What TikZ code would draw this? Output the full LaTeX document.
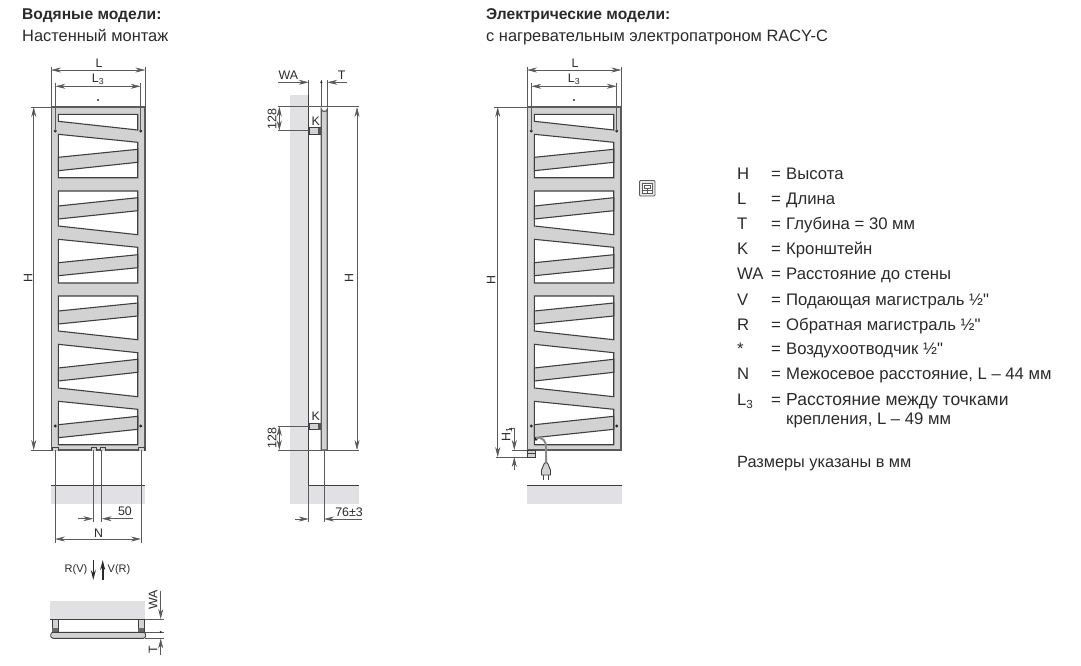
\documentclass[tikz,border=0pt]{standalone}
\usepackage{fontspec}
\setmainfont{Liberation Sans}[Ligatures=TeXOff]
\usetikzlibrary{arrows.meta}
\definecolor{inkdark}{HTML}{2A2A2A}
\definecolor{linegray}{HTML}{5A5A5A}
\definecolor{steelgray}{HTML}{D2D2D2}
\definecolor{wallgray}{HTML}{E1E0E2}
\tikzset{
  >={Stealth[length=10pt,width=5pt]},
  dimline/.style={draw=linegray, line width=0.6pt},
  dimarrow/.style={dimline, <->},
  oneway/.style={dimline, ->},
  outline/.style={draw=inkdark!90, line width=1.1pt},
  frame/.style={draw=linegray, line width=1.8pt, fill=steelgray},
  pane/.style={outline, fill=white},
  bar/.style={outline, fill=steelgray},
  wall/.style={fill=wallgray, draw=none},
  label/.style={text=inkdark, font=\fontsize{12.4}{14}\selectfont, inner sep=0pt},
  legend/.style={text=inkdark, font=\fontsize{16.7}{19}\selectfont, inner sep=0pt, anchor=base west},
  subhead/.style={legend, font=\fontsize{16.4}{19}\selectfont},
  headline/.style={legend, font=\fontsize{15.6}{19}\selectfont\bfseries},
  dot/.style={fill=inkdark, draw=none}
}
\newcommand{\towelpanel}{
  \draw [frame] (51.5, 107) rectangle (145, 450);
  \draw [pane] (58.3, 114.3) -- (137.7, 114.3) -- (137.7, 130) -- (58.3, 121.3) -- cycle;
  \foreach \a/\b/\c/\d/\e/\f/\g/\h in {
    134.3/142.3/177.7/177.7/157.3/149.3/162.3/170.7,
    191/191/234.7/226/206/197.7/210.7/219,
    239.3/247.3/283/283/262.7/254.7/267.7/275.7,
    296/296/339.7/331/311/303/316/324,
    344.3/352.7/396.7/388/368/359.3/372.3/381,
    401.3/409.3/444.7/444.7/424.7/416.3/429.3/437.7} {
    \draw [pane] (58.3, \a) -- (137.7, \b) -- (137.7, \c) -- (58.3, \d) -- cycle;
    \draw [bar] (58.3, \e) -- (137.7, \f) -- (137.7, \g) -- (58.3, \h) -- cycle;
  }
  \foreach \x in {55.3, 140.7}
    \foreach \y in {131, 426}
      \fill [dot] (\x, \y) circle (1.6);
  \fill [dot] (98, 100) circle (1.2);
  \draw [dimline] (51, 67) -- (51, 107);
  \draw [dimline] (145.3, 67) -- (145.3, 107);
  \draw [dimline] (55.3, 83) -- (55.3, 131);
  \draw [dimline] (140.7, 83) -- (140.7, 131);
  \draw [dimarrow] (51, 70) -- (145.3, 70);
  \draw [dimarrow] (55.3, 86.3) -- (140.7, 86.3);
  \node [label] (widthL\tag) at (99, 63) {L};
  \node [label] (widthLthree\tag) at (98, 79) {L\textsubscript{3}};
}
\begin{document}
\begin{tikzpicture}[x=1pt, y=-1pt]
  \useasboundingbox (0, 0) rectangle (1081, 665);

  \node [headline] (titlewater) at (22, 19.5) {Водяные модели:};
  \node [subhead] (subwater) at (22, 41.5) {Настенный монтаж};
  \node [headline] (titleelectric) at (486, 19.5) {Электрические модели:};
  \node [subhead] (subelectric) at (486, 41.5) {с нагревательным электропатроном RACY-C};

  % front view, water
  \def\tag{water}
  \towelpanel
  \draw [dimline] (30.7, 107) -- (51, 107);
  \draw [dimline] (30.7, 450) -- (51, 450);
  \draw [dimarrow] (33.7, 107) -- (33.7, 450);
  \node [label, rotate=90] (heightwater) at (28, 278) {H};
  \foreach \x/\w in {52/6, 91/5, 100.7/5, 138.5/6}
    \draw [outline, line width=0.9pt, fill=steelgray] (\x, 450.5) -- (\x, 447.5) -- (\x+\w, 447.5) -- (\x+\w, 450.5);
  \fill [wall] (51, 485) rectangle (145, 504);
  \draw [outline, line width=0.9pt] (51, 485) -- (145, 485);
  \draw [dimline] (55, 450) -- (55, 543);
  \draw [dimline] (141, 450) -- (141, 543);
  \draw [dimline] (93.3, 450) -- (93.3, 522);
  \draw [dimline] (101.7, 450) -- (101.7, 522);
  \draw [oneway] (78, 518.7) -- (93.3, 518.7);
  \draw [oneway] (133, 518.7) -- (101.7, 518.7);
  \node [label] (gapfifty) at (125, 511) {50};
  \draw [dimarrow] (55, 539) -- (141, 539);
  \node [label] (spacingN) at (98.5, 533) {N};

  % top view
  \node [label, font=\fontsize{11}{13}\selectfont] (returnlabel) at (76, 570) {R(V)};
  \node [label, font=\fontsize{11}{13}\selectfont] (supplylabel) at (119, 570) {V(R)};
  \draw [->, draw=inkdark, line width=1.6pt] (93.3, 560) -- (93.3, 580);
  \draw [->, draw=inkdark, line width=1.6pt] (102.7, 580) -- (102.7, 560);
  \fill [wall] (49.5, 600.7) rectangle (144.5, 619);
  \draw [outline, line width=0.9pt] (49.5, 619) -- (145, 619);
  \foreach \x in {52, 138} {
    \draw [outline, line width=0.9pt, fill=steelgray] (\x, 619) rectangle (\x+6, 632);
    \fill [inkdark!70] (\x, 627.5) rectangle (\x+6, 632);
  }
  \draw [outline, line width=0.9pt, fill=steelgray, rounded corners=2.5pt] (50.7, 632.3) rectangle (145.7, 638.3);
  \draw [dimline] (145, 619) -- (164, 619);
  \draw [dimline] (145, 632) -- (164, 632);
  \draw [dimline] (145, 638.5) -- (164, 638.5);
  \draw [oneway] (160.7, 590.7) -- (160.7, 619);
  \draw [oneway] (160.7, 655) -- (160.7, 638.5);
  \fill [dot] (160.7, 632) circle (1.2);
  \node [label] [rotate=90] (wallgaptop) at (153, 600) {WA};
  \node [label] [rotate=90] (depthtop) at (153, 650) {T};

  % side view
  \fill [wall] (290, 95) rectangle (308.5, 485);
  \fill [wall] (290, 485) rectangle (359, 504);
  \draw [dimline] (308.7, 80) -- (308.7, 95);
  \draw [outline] (308.7, 95) -- (308.7, 485.3) -- (359, 485.3);
  \draw [dimline] (308.7, 485.3) -- (308.7, 522);
  \draw [dimline] (324, 450) -- (324, 522);
  \draw [dimline] (321.3, 80) -- (321.3, 107);
  \draw [dimline] (327.3, 80) -- (327.3, 107);
  \draw [dimline] (278.3, 106.7) -- (359.3, 106.7);
  \draw [dimline] (278.3, 450) -- (359.3, 450);
  \draw [dimline] (278.3, 130.7) -- (309, 130.7);
  \draw [dimline] (278.3, 426) -- (309, 426);
  \draw [frame, line width=1.2pt] (321.3, 450) -- (321.3, 109) arc (180:0:3 and 2.5) -- (327.3, 450) -- cycle;
  \foreach \y in {127.7, 423} {
    \draw [outline, line width=0.9pt, fill=steelgray] (309, \y) rectangle (320.5, \y+6.5);
    \fill [inkdark!80] (317.5, \y) rectangle (321, \y+6.5);
  }
  \draw [oneway] (278.3, 82.3) -- (308.7, 82.3);
  \draw [oneway] (347, 82.3) -- (327.3, 82.3);
  \fill [dot] (321.3, 82.3) circle (1.2);
  \node [label] (wallgapside) at (288.5, 75) {WA};
  \node [label] (depthside) at (341.7, 75) {T};
  \draw [dimarrow] (357, 107) -- (357, 450);
  \node [label, rotate=90] (heightside) at (349, 278) {H};
  \draw [dimarrow] (279.3, 106.7) -- (279.3, 130.7);
  \draw [dimarrow] (279.3, 426) -- (279.3, 450);
  \node [label, rotate=90] (bracketupper) at (272, 119) {128};
  \node [label, rotate=90] (bracketlower) at (272, 438) {128};
  \node [label] (bracketK) at (315.7, 121.5) {K};
  \node [label] (bracketKlow) at (315.7, 416) {K};
  \draw [oneway] (295, 519) -- (308.7, 519);
  \draw [oneway] (361.7, 519) -- (324, 519);
  \node [label] (offsetlabel) at (349, 512) {76±3};

  % front view, electric
  \def\tag{electric}
  \begin{scope}[shift={(476, 0)}]
    \towelpanel
  \end{scope}
  \draw [dimline] (494, 107) -- (527, 107);
  \draw [dimline] (496, 457) -- (535, 457);
  \draw [dimline] (512, 450) -- (527, 450);
  \draw [dimarrow] (497.7, 107) -- (497.7, 457);
  \node [label, rotate=90] (heightelectric) at (491, 280) {H};
  \draw [dimline] (509, 428) -- (514.3, 428);
  \draw [oneway] (514.3, 428) -- (514.3, 450);
  \draw [oneway] (514.3, 470) -- (514.3, 457);
  \node [label, rotate=90] (heaterheight) at (507, 434) {H\textsubscript{1}};
  \draw [outline, line width=0.9pt, fill=steelgray] (527.5, 450) rectangle (535, 457);
  \draw [outline, line width=0.6pt] (527.5, 453.5) -- (535, 453.5);
  \fill [dot] (536, 439) circle (1.8);
  \draw [draw=linegray!70, line width=2pt] (536, 438) .. controls (543, 437) and (546, 441) .. (546, 447) -- (546, 464);
  \draw [outline, line width=0.9pt, fill=steelgray] (544.5, 463) -- (547.5, 463) -- (550.5, 470) -- (550.5, 475) -- (541.5, 475) -- (541.5, 470) -- cycle;
  \draw [outline, line width=1.2pt] (543.7, 475) -- (543.7, 480);
  \draw [outline, line width=1.2pt] (548.3, 475) -- (548.3, 480);
  \fill [wall] (527.3, 485) rectangle (621.7, 504);
  \draw [outline, line width=0.9pt] (527.3, 485) -- (621.7, 485);

  % thermostat icon
  \draw [draw=linegray, line width=0.8pt, rounded corners=1pt, fill=steelgray!50] (639.5, 180.5) rectangle (655, 196);
  \draw [draw=linegray, line width=0.7pt, fill=white] (642.5, 183) rectangle (652, 193.5);
  \draw [draw=linegray, line width=0.6pt] (644, 185) rectangle (650.5, 188);
  \draw [draw=linegray, line width=0.6pt] (647.2, 188) -- (647.2, 193.5);
  \draw [draw=linegray, line width=0.6pt] (642.5, 190) -- (652, 190);

  % legend
  \foreach \id/\y/\key/\txt in {
    a/179.6/H/Высота,
    b/204.6/L/Длина,
    c/229.6/T/{Глубина = 30 мм},
    d/254.6/K/Кронштейн,
    e/279.6/WA/Расстояние до стены,
    f/305.6/V/{Подающая магистраль ½"},
    g/330.6/R/{Обратная магистраль ½"},
    h/354.6/*/{Воздухоотводчик ½"},
    i/379.6/N/{Межосевое расстояние, L – 44 мм}} {
    \node [legend] (key\id) at (737, \y) {\key};
    \node [legend] (equals\id) at (771, \y) {=};
    \node [legend] (entry\id) at (786, \y) {\txt};
  }
  \node [legend] (keyj) at (737, 405.6) {L\textsubscript{3}};
  \node [legend] (equalsj) at (771, 405.6) {=};
  \node [legend, font=\fontsize{17.5}{19}\selectfont] (entryj) at (786, 405.6) {Расстояние между точками};
  \node [legend] (entryjj) at (786, 424.6) {крепления, L – 49 мм};
  \node [legend, font=\fontsize{16.3}{19}\selectfont] (unitsnote) at (737, 467.6) {Размеры указаны в мм};
\end{tikzpicture}
\end{document}
